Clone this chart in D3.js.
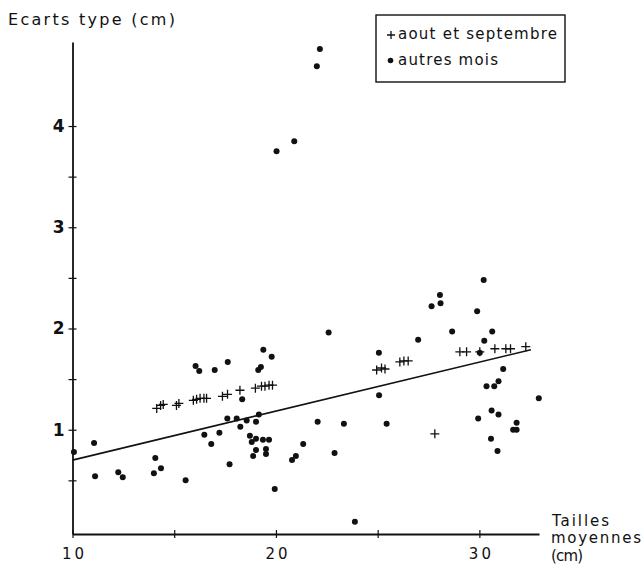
<!DOCTYPE html>
<html lang="fr">
<head>
<meta charset="utf-8">
<script src="https://cdn.jsdelivr.net/npm/d3@7"></script>
<style>
  html, body { margin: 0; padding: 0; background: #fff; }
  svg { display: block; }
  text { font-family: "DejaVu Sans", "Liberation Sans", sans-serif; fill: #111; }
</style>
</head>
<body>
<svg id="chart" width="642" height="569"></svg>
<script>
// Taille moyenne (cm) et écart type (cm) — août et septembre
const aoutSeptX = [14.14, 14.33, 14.46, 15.11, 15.23, 15.94, 16.10, 16.27, 16.46, 16.59,
                   17.37, 17.62, 18.23, 18.99, 19.29, 19.46, 19.66, 19.83,
                   24.95, 25.19, 25.36, 26.09, 26.29, 26.50,
                   29.04, 29.37, 30.02, 30.76, 31.30, 31.53, 32.28, 27.81];
const aoutSeptY = [1.21, 1.24, 1.25, 1.24, 1.26, 1.29, 1.30, 1.31, 1.31, 1.31,
                   1.33, 1.35, 1.39, 1.41, 1.43, 1.43, 1.44, 1.44,
                   1.59, 1.61, 1.60, 1.67, 1.68, 1.68,
                   1.77, 1.77, 1.77, 1.80, 1.80, 1.80, 1.82, 0.96];

// Autres mois
const autresX = [10.07, 11.06, 11.11, 12.25, 12.47, 14.00, 14.07, 14.35, 15.56,
                 16.05, 16.23, 16.99, 16.48, 16.82, 17.22, 17.63, 19.38, 19.79, 19.13, 19.26,
                 18.34, 17.61, 18.07, 18.25, 18.56, 19.02, 19.16, 17.72,
                 18.72, 18.81, 19.02, 19.36, 19.66, 19.02, 18.88, 19.51, 19.51, 19.94,
                 20.79, 20.98, 21.34, 22.05, 22.59, 22.88, 23.34, 23.88,
                 25.06, 25.07, 25.44, 26.99, 27.65, 28.06, 28.09, 28.66,
                 30.21, 29.89, 30.63, 30.24, 30.02, 31.17, 30.94, 30.35, 30.73, 32.92,
                 30.60, 30.94, 29.94, 31.83, 31.66, 31.83, 30.57, 30.89,
                 22.16, 22.01, 20.90, 20.03];
const autresY = [0.78, 0.87, 0.54, 0.58, 0.53, 0.57, 0.72, 0.62, 0.50,
                 1.63, 1.58, 1.59, 0.95, 0.86, 0.97, 1.67, 1.79, 1.72, 1.59, 1.62,
                 1.30, 1.11, 1.11, 1.03, 1.09, 1.08, 1.15, 0.66,
                 0.94, 0.88, 0.91, 0.90, 0.90, 0.80, 0.74, 0.81, 0.76, 0.415,
                 0.70, 0.74, 0.86, 1.08, 1.96, 0.77, 1.06, 0.09,
                 1.76, 1.34, 1.06, 1.89, 2.22, 2.33, 2.25, 1.97,
                 2.48, 2.17, 1.97, 1.88, 1.76, 1.60, 1.48, 1.43, 1.43, 1.31,
                 1.19, 1.15, 1.11, 1.07, 1.00, 1.00, 0.91, 0.79,
                 4.76, 4.59, 3.85, 3.75];

// Droite d'ajustement (extrémités)
const droiteX = [10, 32.53];
const droiteY = [0.70, 1.79];

// Graduations
const xTicks = [10, 15, 20, 25, 30];
const xTickLabels = [10, 20, 30];
const yTicks = [0.5, 1, 1.5, 2, 2.5, 3, 3.5, 4];
const yTickLabels = [1, 2, 3, 4];

// Textes
const titreY = "Ecarts type  (cm)";
const titreX = ["Tailles", "moyennes", "(cm)"];
const legende = ["aout et septembre", "autres mois"];

const svg = d3.select("#chart");

const x = d3.scaleLinear().domain([10, 32.93]).range([72.5, 539]);
const y = d3.scaleLinear().domain([-0.03, 4.83]).range([534, 42]);

// Axe horizontal
const xAxis = d3.axisBottom(x)
  .tickValues(xTicks)
  .tickSizeInner(4).tickSizeOuter(0).tickPadding(10)
  .tickFormat(d => xTickLabels.includes(d) ? d : "");
svg.append("g")
  .attr("transform", `translate(0,${y(-0.03)})`)
  .call(xAxis)
  .call(g => g.select(".domain").attr("stroke", "#111").attr("stroke-width", 1.8))
  .call(g => g.selectAll(".tick line").attr("y1", -4).attr("y2", 4)
              .attr("stroke", "#111").attr("stroke-width", 1.2))
  .call(g => g.selectAll(".tick text")
              .attr("font-size", 15).attr("letter-spacing", 3).attr("dx", 1.5)
              .attr("font-family", "DejaVu Sans, sans-serif").attr("fill", "#111"));

// Axe vertical
const yAxis = d3.axisLeft(y)
  .tickValues(yTicks)
  .tickSizeInner(4).tickSizeOuter(0).tickPadding(4)
  .tickFormat(d => yTickLabels.includes(d) ? d : "");
svg.append("g")
  .attr("transform", `translate(${x(10)},0)`)
  .call(yAxis)
  .call(g => g.select(".domain").attr("stroke", "#111").attr("stroke-width", 1.8))
  .call(g => g.selectAll(".tick line").attr("x1", -4).attr("x2", 4)
              .attr("stroke", "#111").attr("stroke-width", 1.2))
  .call(g => g.selectAll(".tick text")
              .attr("font-size", 17).attr("font-weight", "bold")
              .attr("font-family", "DejaVu Sans, sans-serif").attr("fill", "#111"));

// Droite
svg.append("path")
  .datum(droiteX.map((d, i) => [d, droiteY[i]]))
  .attr("fill", "none").attr("stroke", "#111").attr("stroke-width", 1.6)
  .attr("d", d3.line().x(d => x(d[0])).y(d => y(d[1])));

// Points "autres mois"
svg.append("g").selectAll("circle")
  .data(autresX.map((d, i) => [d, autresY[i]]))
  .join("circle")
  .attr("cx", d => x(d[0])).attr("cy", d => y(d[1]))
  .attr("r", 3).attr("fill", "#111");

// Croix "août et septembre"
const croix = d3.symbol().type(d3.symbolCross);
svg.append("g").selectAll("path")
  .data(aoutSeptX.map((d, i) => [d, aoutSeptY[i]]))
  .join("path")
  .attr("transform", d => `translate(${x(d[0])},${y(d[1])})`)
  .attr("d", "M-4.5,0H4.5M0,-4.5V4.5")
  .attr("stroke", "#111").attr("stroke-width", 1.3).attr("fill", "none");

// Légende
const leg = svg.append("g");
leg.append("rect")
  .attr("x", 376).attr("y", 15).attr("width", 189).attr("height", 67)
  .attr("fill", "none").attr("stroke", "#111").attr("stroke-width", 1.4);
leg.append("path")
  .attr("d", "M387,35H395M391,31V39")
  .attr("stroke", "#111").attr("stroke-width", 1.3);
leg.append("circle").attr("cx", 390.5).attr("cy", 60.5).attr("r", 2.8).attr("fill", "#111");
leg.append("text").attr("x", 398).attr("y", 39).attr("font-size", 15)
  .attr("textLength", 159).attr("lengthAdjust", "spacing").text(legende[0]);
leg.append("text").attr("x", 398).attr("y", 65).attr("font-size", 15)
  .attr("textLength", 100).attr("lengthAdjust", "spacing").text(legende[1]);

// Titres des axes
svg.append("text").attr("x", 8).attr("y", 25).attr("font-size", 16)
  .attr("textLength", 167).attr("lengthAdjust", "spacing").text(titreY);

const tx = svg.append("g");
tx.append("text").attr("x", 552).attr("y", 526).attr("font-size", 15)
  .attr("textLength", 57).attr("lengthAdjust", "spacing").text(titreX[0]);
tx.append("text").attr("x", 551).attr("y", 543).attr("font-size", 15)
  .attr("textLength", 90).attr("lengthAdjust", "spacing").text(titreX[1]);
tx.append("text").attr("x", 551).attr("y", 561).attr("font-size", 15)
  .attr("textLength", 32).attr("lengthAdjust", "spacing").text(titreX[2]);
</script>
</body>
</html>
